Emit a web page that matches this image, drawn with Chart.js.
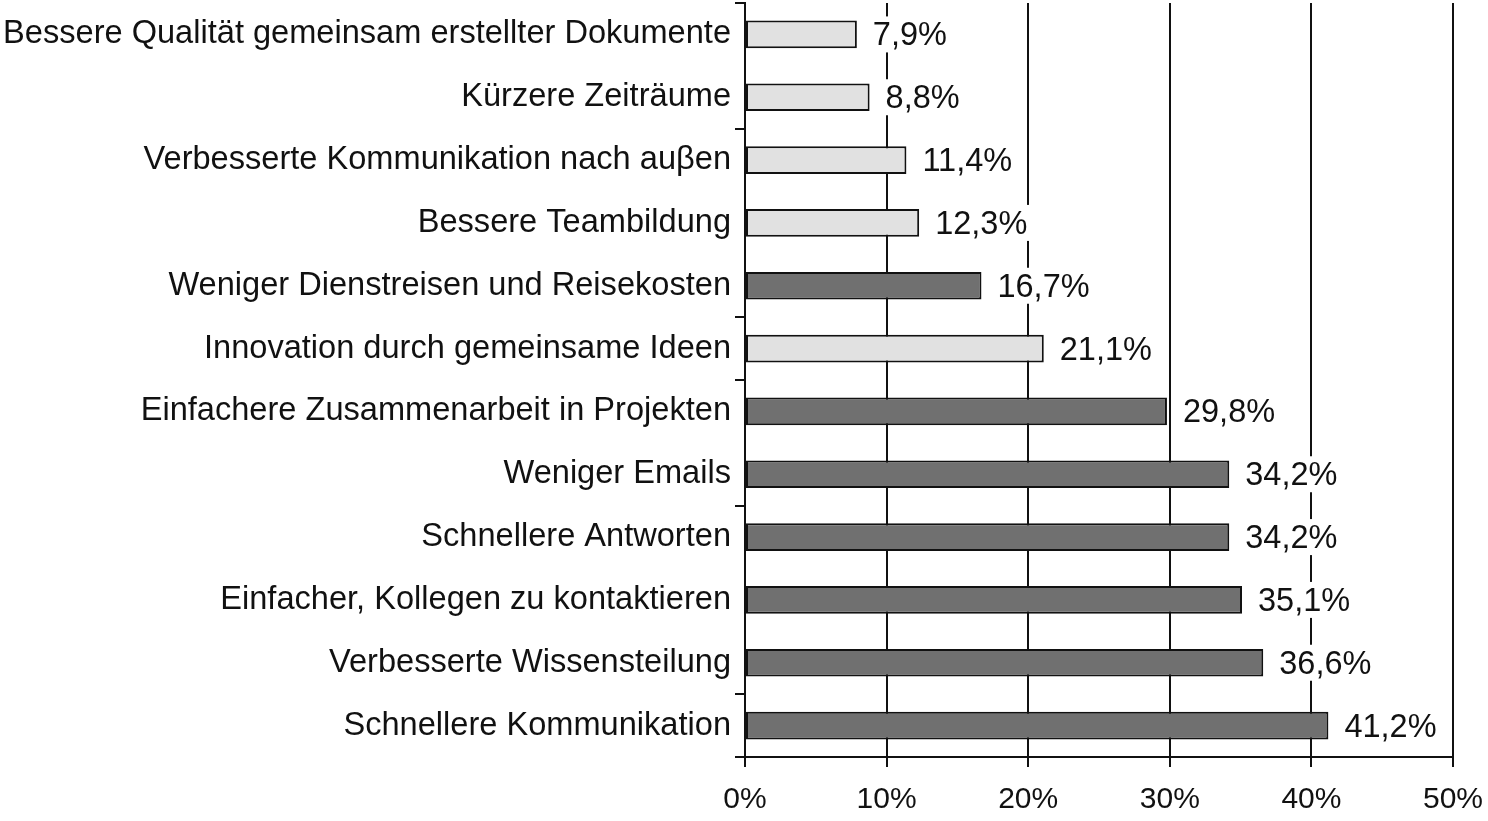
<!DOCTYPE html>
<html>
<head>
<meta charset="utf-8">
<script src="https://cdn.jsdelivr.net/npm/chart.js@4"></script>
<style>
  html, body { margin: 0; padding: 0; background: #fff; }
  #wrap { width: 1488px; height: 821px; }
</style>
</head>
<body>
<div id="wrap"><canvas id="chart"></canvas></div>
<script>
const categories = [
  'Bessere Qualität gemeinsam erstellter Dokumente',
  'Kürzere Zeiträume',
  'Verbesserte Kommunikation nach auβen',
  'Bessere Teambildung',
  'Weniger Dienstreisen und Reisekosten',
  'Innovation durch gemeinsame Ideen',
  'Einfachere Zusammenarbeit in Projekten',
  'Weniger Emails',
  'Schnellere Antworten',
  'Einfacher, Kollegen zu kontaktieren',
  'Verbesserte Wissensteilung',
  'Schnellere Kommunikation'
];
const values = [7.9, 8.8, 11.4, 12.3, 16.7, 21.1, 29.8, 34.2, 34.2, 35.1, 36.6, 41.2];
// 'a' = light bars, 'b' = dark bars
const groups = ['a', 'a', 'a', 'a', 'b', 'a', 'b', 'b', 'b', 'b', 'b', 'b'];
const xTicks = [0, 10, 20, 30, 40, 50];
// category boundaries that carry a tick mark on the left axis
const yTickMarks = [0, 2, 5, 6, 8, 11];

const groupColor = { a: '#e1e1e1', b: '#707070' };
const FONT = "'Liberation Sans', Arial, Helvetica, sans-serif";

const valueLabels = {
  id: 'valueLabels',
  afterDatasetsDraw(chart) {
    const ctx = chart.ctx;
    const meta = chart.getDatasetMeta(0);
    ctx.save();
    ctx.font = '32.5px ' + FONT;
    ctx.textBaseline = 'middle';
    meta.data.forEach((bar, i) => {
      const txt = values[i].toFixed(1).replace('.', ',') + '%';
      const w = ctx.measureText(txt).width;
      const x = bar.x + 16;
      ctx.fillStyle = '#fff';
      ctx.fillRect(x - 2, bar.y - 18, w + 4, 36);
      ctx.fillStyle = '#111';
      ctx.fillText(txt, x, bar.y + 2);
    });
    ctx.restore();
  }
};

new Chart(document.getElementById('chart'), {
  type: 'bar',
  data: {
    labels: categories,
    datasets: [{
      data: values,
      backgroundColor: groups.map(g => groupColor[g]),
      borderColor: '#111',
      borderWidth: 2,
      borderSkipped: false,
      categoryPercentage: 1,
      barPercentage: 0.44
    }]
  },
  options: {
    indexAxis: 'y',
    responsive: true,
    maintainAspectRatio: false,
    animation: false,
    layout: { padding: { top: 3, right: 35, bottom: 2, left: 0 } },
    plugins: { legend: { display: false }, tooltip: { enabled: false } },
    scales: {
      x: {
        min: 0,
        max: 50,
        afterBuildTicks: s => { s.ticks = xTicks.map(v => ({ value: v })); },
        afterFit: s => { s.height = 62; s.paddingLeft = 0; s.paddingRight = 0; },
        ticks: {
          callback: v => v + '%',
          color: '#111',
          font: { family: FONT, size: 30 },
          padding: 15,
          maxRotation: 0
        },
        grid: { color: '#111', lineWidth: 2, tickLength: 10 },
        border: { display: true, color: '#111', width: 2 }
      },
      y: {
        afterFit: s => { s.width = 745; s.paddingTop = 0; s.paddingBottom = 0; },
        ticks: {
          color: '#111',
          font: { family: FONT, size: 32.6 },
          padding: 4
        },
        grid: {
          offset: true,
          drawOnChartArea: false,
          tickLength: 10,
          lineWidth: 2,
          color: c => (c.index === undefined || yTickMarks.includes(c.index)) ? '#111' : 'rgba(0,0,0,0)'
        },
        border: { display: true, color: '#111', width: 2 }
      }
    }
  },
  plugins: [valueLabels]
});
</script>
</body>
</html>
